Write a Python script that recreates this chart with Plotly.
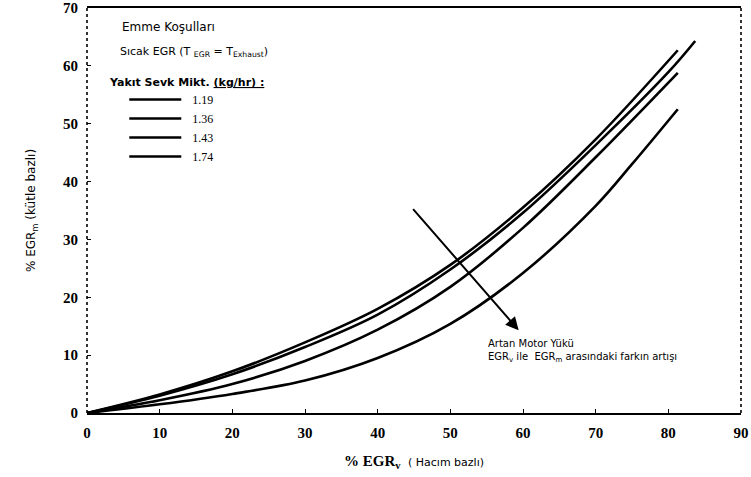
import plotly.graph_objects as go

# data
fuel_labels = ["1.19", "1.36", "1.43", "1.74"]
x_119 = [0, 10, 20, 30, 40, 50, 60, 70, 81.3]
y_119 = [0, 3.2, 7.2, 12.2, 18.0, 25.6, 35.5, 47.3, 62.7]
x_136 = [0, 10, 20, 30, 40, 50, 60, 70, 80, 83.7]
y_136 = [0, 3.0, 6.7, 11.4, 17.0, 24.8, 34.6, 46.3, 58.9, 64.3]
x_143 = [0, 10, 20, 30, 40, 50, 60, 70, 81.3]
y_143 = [0, 2.2, 5.0, 9.0, 14.4, 21.8, 32.0, 44.2, 58.8]
x_174 = [0, 10, 20, 30, 40, 50, 60, 70, 75, 81.3]
y_174 = [0, 1.5, 3.3, 5.6, 9.5, 15.4, 24.2, 35.8, 43.0, 52.5]

x_ticks = [0, 10, 20, 30, 40, 50, 60, 70, 80, 90]
y_ticks = [0, 10, 20, 30, 40, 50, 60, 70]

series = [(x_119, y_119), (x_136, y_136), (x_143, y_143), (x_174, y_174)]

fig = go.Figure()
for lab, (xs, ys) in zip(fuel_labels, series):
    fig.add_trace(go.Scatter(x=xs, y=ys, mode="lines", name="\u00a0\u00a0" + lab,
                             line=dict(color="black", width=2.6, shape="spline", smoothing=1)))

sans = "DejaVu Sans"
serif = "Liberation Serif"

fig.update_layout(
    width=751, height=477,
    margin=dict(l=87, r=10, t=8, b=64),
    paper_bgcolor="white", plot_bgcolor="white",
    showlegend=True,
    legend=dict(x=0.057, y=0.81, xanchor="left", yanchor="top",
                bgcolor="rgba(0,0,0,0)", font=dict(family=serif, size=12, color="black"),
                itemwidth=52, tracegroupgap=0),
    font=dict(family=serif, color="black"),
)

fig.update_xaxes(range=[0, 90], tickvals=x_ticks, ticktext=[str(v) for v in x_ticks],
                 automargin=False,
                 showgrid=False, zeroline=False, showline=True, linecolor="black", linewidth=1.5,
                 mirror=True, ticks="inside", ticklen=4, tickcolor="black",
                 ticklabelstandoff=5,
                 tickfont=dict(family=serif, size=15, color="black", weight="bold"),
                 title=dict(text="<b>% EGR<sub>v</sub></b>  <span style='font-family:DejaVu Sans;font-size:11px'>( Hacım bazlı)</span>",
                            font=dict(family=serif, size=15, color="black"), standoff=16))
fig.update_yaxes(range=[0, 70], tickvals=y_ticks, ticktext=[str(v) for v in y_ticks],
                 automargin=False,
                 showgrid=False, zeroline=False, showline=False,
                 ticks="inside", ticklen=4, tickcolor="black",
                 ticklabelstandoff=8,
                 tickfont=dict(family=serif, size=15, color="black", weight="bold"),
                 title=dict(text="% EGR<sub>m</sub> (kütle bazlı)",
                            font=dict(family=sans, size=12, color="black"), standoff=24))

# dotted left and right frame edges (scanned look)
for xp in (0, 1):
    fig.add_shape(type="line", xref="paper", yref="paper", x0=xp, x1=xp, y0=0, y1=1,
                  line=dict(color="black", width=1.6, dash="dot"))

fig.add_annotation(x=0.05, y=0.953, xref="paper", yref="paper", xanchor="left", yanchor="middle",
                   text="Emme Koşulları", showarrow=False, font=dict(family=sans, size=12, color="black"))
fig.add_annotation(x=0.047, y=0.891, xref="paper", yref="paper", xanchor="left", yanchor="middle",
                   text="Sıcak EGR (T <sub>EGR</sub> = T<sub>Exhaust</sub>)", showarrow=False,
                   font=dict(family=sans, size=11, color="black"))
fig.add_annotation(x=0.031, y=0.815, xref="paper", yref="paper", xanchor="left", yanchor="middle",
                   text="<b>Yakıt Sevk Mikt. <u>(kg/hr) :</u></b>", showarrow=False,
                   font=dict(family=sans, size=11, color="black"))

# arrow: increasing engine load
fig.add_annotation(x=59.4, y=14.3, ax=44.7, ay=35.5, xref="x", yref="y", axref="x", ayref="y",
                   text="", showarrow=True, arrowhead=2, arrowsize=1.3, arrowwidth=2, arrowcolor="black")
fig.add_annotation(x=54.9, y=13.3, xref="x", yref="y", xanchor="left", yanchor="top", align="left",
                   text="Artan Motor Yükü<br>EGR<sub>v</sub> ile  EGR<sub>m</sub> arasındaki farkın artışı",
                   showarrow=False, font=dict(family=sans, size=10, color="black"))

fig.write_html("out.html", config={"displayModeBar": False},
               post_script="document.body.style.margin='0';document.body.style.padding='0';")
